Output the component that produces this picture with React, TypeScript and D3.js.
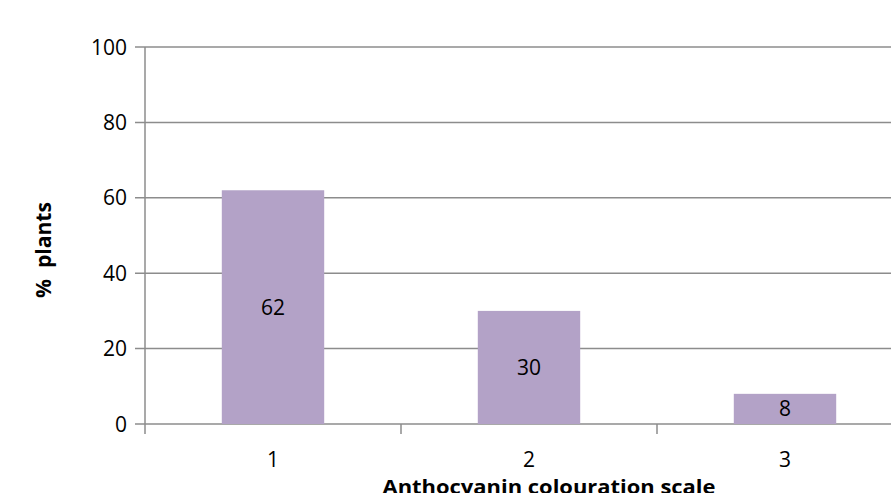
import React from "react";
import * as d3 from "d3";

const categories = ["1", "2", "3"];
const values = [62, 30, 8];
const yTicks = [0, 20, 40, 60, 80, 100];

const W = 891;
const H = 493;
const left = 145;
const right = 913;
const top = 47;
const bottom = 424;
const font = "'Open Sans', sans-serif";

export default function App() {
  const xOuter = d3.scaleBand<string>().domain(categories).range([left, right]);
  const barW = xOuter.bandwidth() * 0.4;
  const y = d3.scaleLinear().domain([0, 100]).range([bottom, top]);
  const grid = "#8c8c8c";
  return (
    <svg width={W} height={H} style={{ position: "absolute", left: 0, top: 0 }}>
      {yTicks.map((t) => (
        <g key={t}>
          <line x1={left - 10} x2={W} y1={y(t)} y2={y(t)} stroke={grid} strokeWidth={1.5} />
          <text x={left - 18} y={y(t)} dy="0.36em" textAnchor="end" fontFamily={font} fontSize={21} fill="#000">
            {t}
          </text>
        </g>
      ))}
      <line x1={left} x2={left} y1={top} y2={bottom + 10} stroke={grid} strokeWidth={1.5} />
      {categories.map((c) => (
        <line key={"t" + c} x1={xOuter(c)! + xOuter.bandwidth()} x2={xOuter(c)! + xOuter.bandwidth()} y1={bottom} y2={bottom + 10} stroke={grid} strokeWidth={1.5} />
      ))}
      {categories.map((c, i) => {
        const cx = xOuter(c)! + xOuter.bandwidth() / 2;
        return (
          <g key={c}>
            <rect x={cx - barW / 2} y={y(values[i])} width={barW} height={bottom - y(values[i])} fill="#b3a2c7" />
            <text x={cx} y={(y(values[i]) + bottom) / 2} dy="0.36em" textAnchor="middle" fontFamily={font} fontSize={21} fill="#000">
              {values[i]}
            </text>
            <text x={cx} y={467} textAnchor="middle" fontFamily={font} fontSize={21} fill="#000">
              {c}
            </text>
          </g>
        );
      })}
      <text x={549} y={494} textAnchor="middle" fontFamily={font} fontSize={20} fontWeight="bold" fill="#000" textLength={333} lengthAdjust="spacingAndGlyphs">
        Anthocyanin colouration scale
      </text>
      <text transform="translate(51, 250) rotate(-90)" textAnchor="middle" fontFamily={font} fontSize={21} fontWeight="bold" fill="#000" textLength={96} lengthAdjust="spacingAndGlyphs" style={{ whiteSpace: "pre" }}>
        {"%  plants"}
      </text>
    </svg>
  );
}
